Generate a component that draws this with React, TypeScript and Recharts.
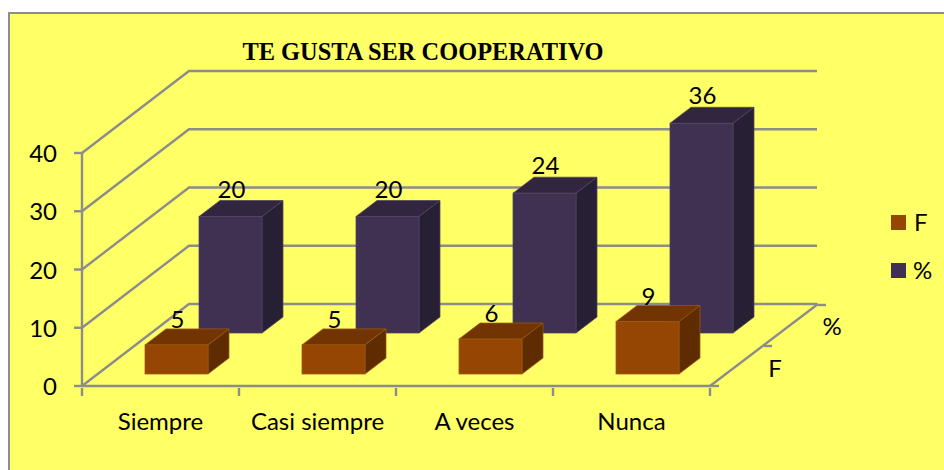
import React from "react";
import { BarChart, Bar, XAxis, YAxis, CartesianGrid, LabelList } from "recharts";

const categories = ["Siempre", "Casi siempre", "A veces", "Nunca"];
const fValues = [5, 5, 6, 9];
const pctValues = [20, 20, 24, 36];
const yTicks = [0, 10, 20, 30, 40];
const seriesNames = ["F", "%"];

const chartData = categories.map((name, i) => ({ name, F: fValues[i], pct: pctValues[i] }));

const AXIS = "#8c8c8c";
const LINE_W = 2.4;
const FONT = "Lato, sans-serif";
const FONT_SIZE = 24;
const DEPTH_X = 107;
const DEPTH_Y = 82;
const CAT_HALF = 78.5;

const fColors = { front: "#964603", top: "#713402", side: "#5f2c02", edge: "#9c5a12" };
const pctColors = { front: "#403152", top: "#312540", side: "#272034", edge: "#4f4660" };

// fake 3D box, nudged back along the depth axis
const Box: React.FC<any> = ({ x, y, width, height, dx, dy, colors }) => {
  const l = x + dx;
  const r = l + width;
  const t = y + dy;
  const b = t + height;
  const ox = 21;
  const oy = 16;
  return (
    <g stroke={colors.edge} strokeWidth={0.75}>
      <polygon points={`${l},${t} ${l + ox},${t - oy} ${r + ox},${t - oy} ${r},${t}`} fill={colors.top} />
      <polygon points={`${r},${t} ${r + ox},${t - oy} ${r + ox},${b - oy} ${r},${b}`} fill={colors.side} />
      <rect x={l} y={t} width={width} height={height} fill={colors.front} />
    </g>
  );
};

const makeLabel = (dx: number, dy: number, gap: number) => (p: any) => (
  <text
    x={p.x + p.width / 2 + dx + 1}
    y={p.y + dy - gap}
    textAnchor="middle"
    fontFamily={FONT}
    fontSize={FONT_SIZE}
    fill="#000"
  >
    {p.value}
  </text>
);

// wall line: floor-front to back corner, then along the back wall
const wallLine = (p: any) => (
  <polyline
    key={p.index}
    points={`${p.x1},${p.y1} ${p.x1 + DEPTH_X},${p.y1 - DEPTH_Y} ${p.x2 + DEPTH_X},${p.y1 - DEPTH_Y}`}
    fill="none"
    stroke={AXIS}
    strokeWidth={LINE_W}
  />
);

// in the source the ticks sit between categories, not under them
const CategoryTick = (p: any) => (
  <g>
    <line x1={p.x - CAT_HALF} y1={p.y} x2={p.x - CAT_HALF} y2={p.y + 8} stroke={AXIS} strokeWidth={LINE_W} />
    {p.index === categories.length - 1 && (
      <line x1={p.x + CAT_HALF} y1={p.y} x2={p.x + CAT_HALF} y2={p.y + 8} stroke={AXIS} strokeWidth={LINE_W} />
    )}
    <text x={p.x} y={p.y + 42} textAnchor="middle" fontFamily={FONT} fontSize={FONT_SIZE} fill="#000">
      {p.payload.value}
    </text>
  </g>
);

const ValueTick = (p: any) => (
  <text x={p.x} y={p.y + 9} textAnchor="end" fontFamily={FONT} fontSize={FONT_SIZE} fill="#000">
    {p.payload.value}
  </text>
);

const F_DX = 16;
const F_DY = -12;
const PCT_DX = 70;
const PCT_DY = -53;

export default function App() {
  return (
    <div style={{ position: "absolute", left: 0, top: 0, width: 944, height: 470, overflow: "hidden", background: "#fff" }}>
      <div
        style={{
          position: "absolute",
          left: 8,
          top: 12,
          width: 960,
          height: 480,
          background: "#ffff66",
          border: `2px solid ${AXIS}`,
          boxSizing: "border-box",
        }}
      />
      <div style={{ position: "absolute", left: 0, top: 0 }}>
        <BarChart
          width={944}
          height={470}
          data={chartData}
          margin={{ top: 153, right: 234, bottom: 0, left: 0 }}
          barSize={63}
          barGap={-63}
        >
          <CartesianGrid vertical={false} horizontal={wallLine} />
          <XAxis
            dataKey="name"
            height={84}
            tickSize={0}
            tickLine={false}
            interval={0}
            axisLine={{ stroke: AXIS, strokeWidth: LINE_W }}
            tick={CategoryTick}
          />
          <YAxis
            width={82}
            domain={[0, 40]}
            ticks={yTicks}
            tickSize={8}
            tickMargin={17}
            axisLine={{ stroke: AXIS, strokeWidth: LINE_W }}
            tickLine={{ stroke: AXIS, strokeWidth: LINE_W }}
            tick={ValueTick}
          />
          <Bar
            dataKey="pct"
            name={seriesNames[1]}
            fill={pctColors.front}
            isAnimationActive={false}
            shape={(p: any) => <Box {...p} dx={PCT_DX} dy={PCT_DY} colors={pctColors} />}
          >
            <LabelList dataKey="pct" content={makeLabel(PCT_DX, PCT_DY, 19)} />
          </Bar>
          <Bar
            dataKey="F"
            name={seriesNames[0]}
            fill={fColors.front}
            isAnimationActive={false}
            shape={(p: any) => <Box {...p} dx={F_DX} dy={F_DY} colors={fColors} />}
          >
            <LabelList dataKey="F" content={makeLabel(F_DX, F_DY, 17)} />
          </Bar>

          {/* floor edge and depth axis */}
          <g stroke={AXIS} strokeWidth={LINE_W} fill="none">
            <line x1={710} y1={386} x2={818} y2={304} />
            <line x1={710} y1={386} x2={719} y2={386} />
            <line x1={764} y1={346} x2={772} y2={346} />
            <line x1={818} y1={305} x2={826} y2={305} />
          </g>
          <g fontFamily={FONT} fontSize={FONT_SIZE} fill="#000">
            <text x={775} y={377} textAnchor="middle">{seriesNames[0]}</text>
            <text x={832} y={335} textAnchor="middle">{seriesNames[1]}</text>
          </g>

          <text x={423} y={60} textAnchor="middle" fontFamily="'Liberation Serif', serif" fontWeight="bold" fontSize={24.4} fill="#000">
            TE GUSTA SER COOPERATIVO
          </text>

          {/* legend */}
          <g fontFamily={FONT} fontSize={FONT_SIZE} fill="#000">
            <rect x={891} y={215} width={15} height={15} fill={fColors.front} />
            <text x={914} y={231}>{seriesNames[0]}</text>
            <rect x={891} y={263} width={15} height={15} fill={pctColors.front} />
            <text x={913} y={279}>{seriesNames[1]}</text>
          </g>
        </BarChart>
      </div>
    </div>
  );
}
